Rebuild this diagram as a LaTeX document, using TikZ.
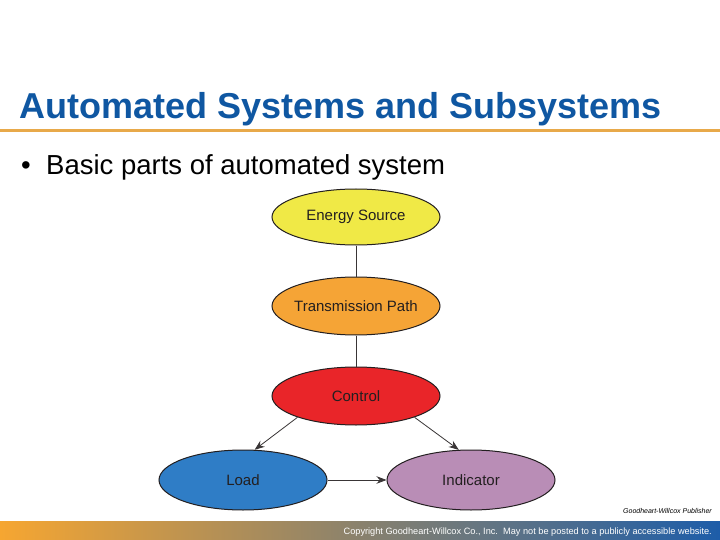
\documentclass[tikz,border=0pt]{standalone}
\usepackage{fontspec}
\setmainfont{Liberation Sans}
\usepackage{tikz}
\usetikzlibrary{arrows.meta, shapes.geometric}
\definecolor{titleblue}{HTML}{0F57A2}
\definecolor{ruleorange}{HTML}{E8A94A}
\definecolor{barorange}{HTML}{F6A631}
\definecolor{barblue}{HTML}{1D5DA9}
\definecolor{srcyellow}{HTML}{F0E946}
\definecolor{pathorange}{HTML}{F5A436}
\definecolor{ctrlred}{HTML}{E92529}
\definecolor{loadblue}{HTML}{2F7DC6}
\definecolor{indmauve}{HTML}{B98DB6}
\definecolor{inkgray}{HTML}{231F20}

\begin{document}
\begin{tikzpicture}
                            [x=1pt, y=-1pt,
                             part/.style={draw=inkgray, ellipse, line width=1pt, minimum width=168pt, minimum height=56pt, inner xsep=-16pt, inner ysep=0pt, font=\fontsize{15}{18}\selectfont, text=inkgray},
                             link/.style={draw=inkgray!90, line width=0.8pt},
                             flow/.style={link, -{Stealth[length=10pt, width=7.5pt]}}]
    \useasboundingbox (0,0) rectangle (720,540);
    \fill[white] (0,0) rectangle (720,540);

    % heading
    \node[anchor=base west, inner sep=0pt, text=titleblue, font=\fontsize{36}{40}\selectfont\bfseries] (title) at (19,119) {Automated Systems and Subsystems};
    \fill[ruleorange] (0,129.5) rectangle (720,132.5);
    \node[anchor=base west, inner sep=0pt, font=\fontsize{27.5}{32}\selectfont] (bullet) at (21,175) {•};
    \node[anchor=base west, inner sep=0pt, font=\fontsize{27.5}{32}\selectfont] (point) at (46,175) {Basic parts of automated system};

    % parts
    \node[part, fill=srcyellow] (source) at (356,217) {Energy Source};
    \node[part, fill=pathorange, minimum height=58pt] (path) at (356,306) {Transmission Path};
    \node[part, fill=ctrlred, minimum height=58pt] (control) at (356,396) {Control};
    \node[part, fill=loadblue, minimum height=60pt] (load) at (243,480) {Load};
    \node[part, fill=indmauve, minimum height=60pt] (indicator) at (471,480) {Indicator};

    \draw[link] (source) -- (path);
    \draw[link] (path) -- (control);
    \draw[flow] (control.200) -- (load.69);
    \draw[flow] (control.340) -- (indicator.112);
    \draw[flow] (load.east) -- (indicator.west);

    % footer
    \node[anchor=base east, inner sep=0pt, font=\fontsize{7}{8}\selectfont\itshape] (credit) at (712,513) {Goodheart-Willcox Publisher};
    \shade[left color=barorange, right color=barblue] (0,521) rectangle (720,540);
    \node[anchor=base east, inner sep=0pt, text=white, font=\fontsize{9.2}{11}\selectfont] (copy) at (712,534) {Copyright Goodheart-Willcox Co., Inc.\ \ May not be posted to a publicly accessible website.};
\end{tikzpicture}
\end{document}
